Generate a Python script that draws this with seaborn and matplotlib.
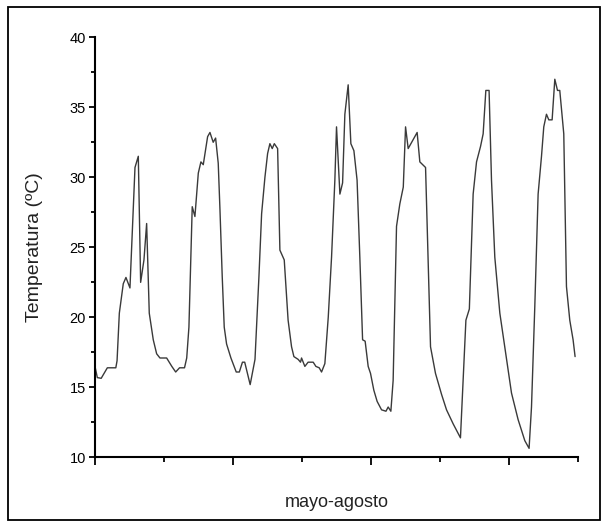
import matplotlib
matplotlib.use("Agg")
import matplotlib.pyplot as plt
from matplotlib.patches import Rectangle
from matplotlib.ticker import MultipleLocator, NullFormatter
import seaborn as sns
import pandas as pd

# time position along the record (one unit = one minor x tick)
tiempo = [
    0.00, 0.034, 0.09, 0.179, 0.302, 0.32, 0.353, 0.41, 0.449, 0.507,
    0.58, 0.628, 0.662, 0.71, 0.749, 0.787, 0.845, 0.894, 0.942, 1.039,
    1.114, 1.17, 1.226, 1.298, 1.33, 1.362, 1.41, 1.449, 1.498, 1.536,
    1.57, 1.633, 1.667, 1.714, 1.749, 1.787, 1.812, 1.845, 1.874, 1.908,
    1.971, 2.048, 2.093, 2.138, 2.171, 2.25, 2.32, 2.377, 2.416, 2.464,
    2.503, 2.536, 2.57, 2.6, 2.648, 2.681, 2.744, 2.80, 2.85, 2.884,
    2.946, 2.98, 2.995, 3.043, 3.09, 3.164, 3.203, 3.251, 3.285, 3.333,
    3.382, 3.43, 3.478, 3.502, 3.551, 3.59, 3.623, 3.671, 3.71, 3.754,
    3.80, 3.84, 3.88, 3.917, 3.961, 3.995, 4.043, 4.091, 4.155, 4.219,
    4.251, 4.29, 4.323, 4.372, 4.42, 4.47, 4.503, 4.541, 4.671, 4.71,
    4.793, 4.865, 4.937, 5.025, 5.097, 5.193, 5.299, 5.378, 5.428, 5.483,
    5.532, 5.59, 5.628, 5.667, 5.714, 5.749, 5.797, 5.87, 5.967, 6.039,
    6.135, 6.232, 6.294, 6.329, 6.377, 6.425, 6.474, 6.507, 6.546, 6.58,
    6.628, 6.667, 6.706, 6.739, 6.797, 6.836, 6.884, 6.932, 6.961,
]
temperatura = [
    16.5, 15.7, 15.65, 16.4, 16.4, 16.9, 20.3, 22.4, 22.85, 22.1,
    30.7, 31.5, 22.5, 24.1, 26.7, 20.3, 18.4, 17.4, 17.1, 17.1,
    16.5, 16.1, 16.4, 16.4, 17.1, 19.3, 27.9, 27.2, 30.3, 31.1,
    30.9, 32.9, 33.2, 32.5, 32.8, 31.0, 27.7, 22.9, 19.3, 18.1,
    17.1, 16.1, 16.1, 16.8, 16.8, 15.2, 17.0, 22.9, 27.4, 30.0,
    31.7, 32.4, 32.05, 32.4, 32.05, 24.8, 24.1, 19.8, 17.9, 17.2,
    17.0, 16.8, 17.1, 16.5, 16.8, 16.8, 16.5, 16.4, 16.1, 16.7,
    20.0, 24.3, 29.8, 33.6, 28.8, 29.6, 34.5, 36.6, 32.4, 31.9,
    29.8, 24.3, 18.4, 18.3, 16.5, 16.0, 14.8, 14.0, 13.4, 13.3,
    13.6, 13.3, 15.5, 26.5, 28.1, 29.3, 33.6, 32.05, 33.2, 31.1,
    30.7, 17.9, 16.0, 14.5, 13.4, 12.4, 11.4, 19.8, 20.6, 28.8,
    31.1, 32.2, 33.1, 36.2, 36.2, 29.8, 24.3, 20.3, 17.0, 14.6,
    12.7, 11.2, 10.65, 13.6, 20.8, 28.8, 31.5, 33.6, 34.5, 34.1,
    34.1, 37.0, 36.2, 36.2, 33.1, 22.2, 19.8, 18.4, 17.2,
]
y_ticks = [10, 15, 20, 25, 30, 35, 40]

df = pd.DataFrame({"t": tiempo, "T": temperatura})

sns.set_style("ticks")
plt.rcParams["font.family"] = ["Liberation Sans", "DejaVu Sans"]

fig = plt.figure(figsize=(6.05, 5.24), dpi=100)
ax = fig.add_axes([0.157, 0.127, 0.798, 0.802])

sns.lineplot(data=df, x="t", y="T", ax=ax, color="#3a3a3a", linewidth=1.0,
             sort=False, estimator=None)

ax.set_xlim(0, 7)
ax.set_ylim(10, 40)
ax.set_yticks(y_ticks)
ax.yaxis.set_minor_locator(MultipleLocator(2.5))
ax.xaxis.set_major_locator(MultipleLocator(2))
ax.xaxis.set_minor_locator(MultipleLocator(1))
ax.xaxis.set_major_formatter(NullFormatter())

for s in ["top", "right"]:
    ax.spines[s].set_visible(False)
for s in ["left", "bottom"]:
    ax.spines[s].set_color("black")
    ax.spines[s].set_linewidth(1.5)

ax.tick_params(axis="y", which="major", direction="out", length=4.5, width=1.3,
               labelsize=10.5, colors="black", pad=2)
ax.tick_params(axis="y", which="minor", direction="out", length=3, width=1.3,
               colors="black")
ax.tick_params(axis="x", which="major", direction="out", length=6, width=1.3,
               colors="black")
ax.tick_params(axis="x", which="minor", direction="out", length=3.6, width=1.3,
               colors="black")

ax.set_xlabel("mayo-agosto", fontsize=13, labelpad=17, color="#222222")
ax.set_ylabel("Temperatura (ºC)", fontsize=14, labelpad=19, color="#222222")

fig.patches.append(Rectangle((8 / 605, 1 - 520 / 524), 592 / 605, 513 / 524,
                             transform=fig.transFigure, fill=False,
                             edgecolor="black", linewidth=1.3))

fig.savefig("out.png", dpi=100)
